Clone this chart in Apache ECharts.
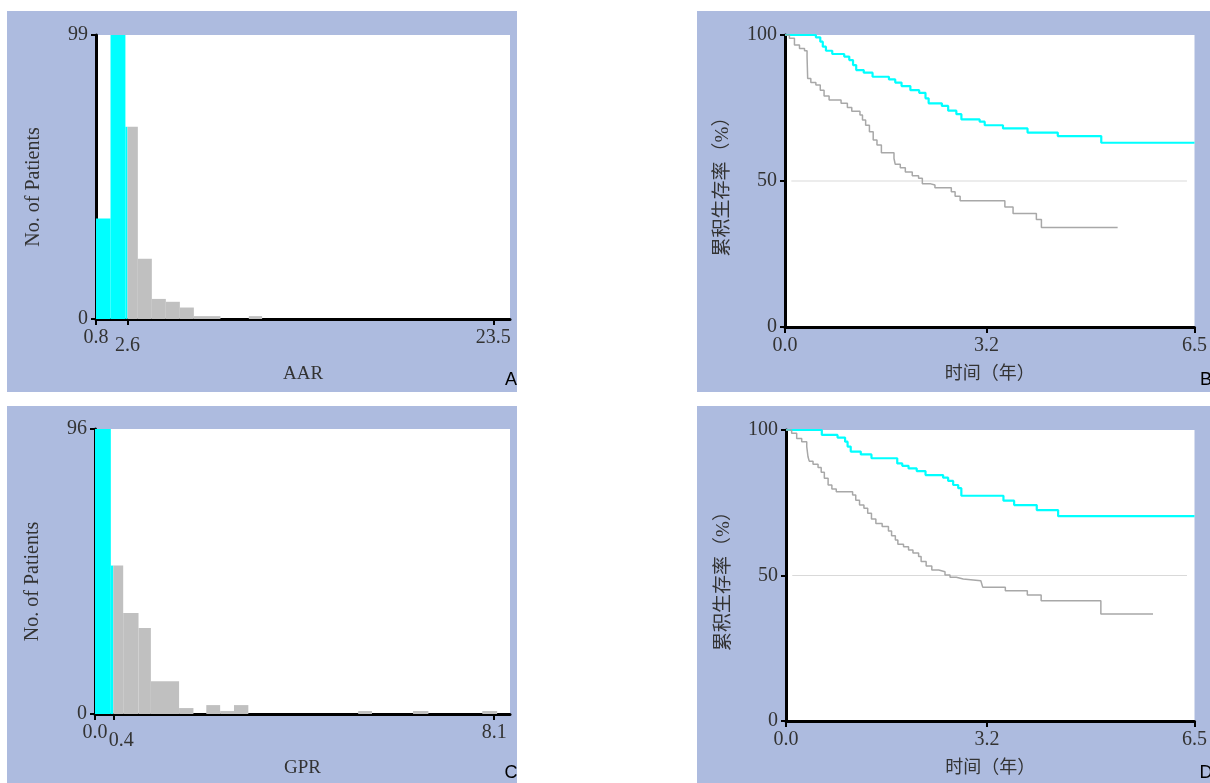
<!DOCTYPE html>
<html>
<head>
<meta charset="utf-8">
<title>AAR / GPR 生存分析</title>
<script src="https://cdn.jsdelivr.net/npm/echarts@6.0.0/dist/echarts.min.js"></script>
<style>
  html, body { margin: 0; padding: 0; background: #fff; }
  #statistics { width: 1210px; height: 783px; }
</style>
</head>
<body>
<div id="statistics"></div>
<script type="text/javascript">
  // A: AAR 直方图 (起点, 终点, 人数)
  var aarStart = [0.8, 1.63, 2.48, 3.19, 3.99, 4.79, 5.59, 6.39, 9.53]
  var aarEnd = [1.63, 2.48, 3.19, 3.99, 4.79, 5.59, 6.39, 7.91, 10.29]
  var aarCount = [35, 99, 67, 21, 7, 6, 4, 1, 1]
  var aarCut = 2.6
  var aarTicks = [0.8, 23.5]

  // C: GPR 直方图
  var gprStart = [0.03, 0.35, 0.60, 0.91, 1.16, 1.73, 2.28, 2.56, 2.84, 5.35, 6.46, 7.86]
  var gprEnd = [0.35, 0.60, 0.91, 1.16, 1.73, 2.02, 2.56, 2.84, 3.13, 5.63, 6.77, 8.16]
  var gprCount = [96, 50, 34, 29, 11, 2, 3, 1, 3, 1, 1, 1]
  var gprCut = 0.4
  var gprTicks = [0.03, 8.1]

  // B: 按AAR分组的生存曲线
  var bHighT = [0, 0.49, 0.56, 0.60, 0.65, 0.75, 0.94, 1.02, 1.08, 1.13, 1.25, 1.39, 1.65, 1.75, 1.85, 1.99, 2.13, 2.23, 2.28, 2.49, 2.59, 2.72, 2.80, 3.09, 3.17, 3.46, 3.85, 4.33, 5.02, 6.5]
  var bHighS = [100, 99.2, 97.7, 96.0, 94.6, 93.5, 92.6, 91.4, 89.7, 88.0, 87.1, 85.7, 84.8, 83.7, 82.5, 81.1, 80.2, 78.3, 76.6, 75.7, 74.1, 72.9, 71.1, 70.3, 69.1, 68.0, 66.6, 65.4, 63.1, 63.1]
  var bLowT = [0, 0.07, 0.15, 0.23, 0.31, 0.35, 0.36, 0.41, 0.49, 0.56, 0.62, 0.70, 0.89, 0.99, 1.06, 1.19, 1.23, 1.28, 1.34, 1.40, 1.46, 1.53, 1.73, 1.75, 1.83, 1.91, 2.02, 2.12, 2.18, 2.30, 2.38, 2.64, 2.70, 2.78, 3.49, 3.62, 3.99, 4.07, 5.28]
  var bLowS = [100, 98.9, 96.6, 95.4, 94.6, 92.6, 85.1, 83.7, 82.9, 81.1, 79.1, 77.7, 76.6, 75.2, 73.9, 72.6, 70.9, 69.1, 66.9, 64.0, 62.3, 59.7, 57.7, 55.7, 54.5, 53.1, 51.8, 50.9, 49.1, 48.6, 47.7, 46.3, 44.8, 43.2, 41.1, 38.9, 36.8, 34.1, 34.1]

  // D: 按GPR分组的生存曲线
  var dHighT = [0, 0.57, 0.82, 0.94, 0.98, 1.03, 1.19, 1.36, 1.77, 1.85, 1.95, 2.08, 2.22, 2.50, 2.58, 2.66, 2.74, 2.79, 3.46, 3.63, 3.99, 4.33, 6.5]
  var dHighS = [100, 98.3, 97.4, 96.0, 94.3, 92.6, 91.6, 90.3, 88.5, 87.7, 86.8, 85.9, 84.5, 83.6, 82.5, 81.1, 80.0, 77.4, 75.7, 74.2, 72.5, 70.4, 70.4]
  var dLowT = [0, 0.09, 0.17, 0.25, 0.33, 0.35, 0.37, 0.43, 0.51, 0.56, 0.61, 0.67, 0.73, 0.80, 1.06, 1.11, 1.17, 1.24, 1.30, 1.36, 1.43, 1.53, 1.63, 1.68, 1.74, 1.78, 1.87, 1.95, 2.02, 2.11, 2.15, 2.23, 2.32, 2.43, 2.53, 2.61, 2.71, 2.82, 3.10, 3.13, 3.49, 3.84, 4.06, 5.01, 5.84]
  var dLowS = [100, 98.9, 97.1, 96.0, 94.3, 90.8, 89.3, 88.2, 87.1, 85.5, 83.4, 81.1, 79.7, 78.8, 77.7, 75.9, 74.2, 73.1, 71.4, 69.4, 67.9, 66.8, 65.3, 63.7, 62.2, 60.7, 59.9, 58.8, 57.7, 56.5, 54.8, 53.3, 51.9, 51.3, 50.2, 49.4, 48.8, 48.2, 47.7, 46.0, 44.8, 43.3, 41.3, 36.8, 36.8]

  var refT = [0.1, 6.38]
  var refS = [50, 50]
  var kmTicks = [0, 3.2, 6.5]

  var CYAN = '#00ffff'
  var GRAY = '#c0c0c0'
  var PANEL = '#adbbdf'
  var SERIF = "'Liberation Serif', 'Noto Sans CJK SC', serif"
  var TXT = '#333'

  function zip(a, b, c) {
    var out = []
    for (var i = 0; i < a.length; i++) {
      out.push(c ? [a[i], b[i], c[i]] : [a[i], b[i]])
    }
    return out
  }

  // 分割点左边青色, 右边灰色
  function histItem(cut) {
    return function (params, api) {
      var x0 = api.value(0), x1 = api.value(1), n = api.value(2)
      var parts = []
      if (x1 <= cut) parts.push([x0, x1, CYAN])
      else if (x0 >= cut) parts.push([x0, x1, GRAY])
      else {
        parts.push([x0, cut, CYAN])
        parts.push([cut, x1, GRAY])
      }
      var children = parts.map(function (p) {
        var a = api.coord([p[0], n])
        var b = api.coord([p[1], 0])
        return {
          type: 'rect',
          shape: {x: a[0], y: a[1], width: b[0] - a[0], height: b[1] - a[1]},
          style: {fill: p[2]}
        }
      })
      return {type: 'group', children: children}
    }
  }

  var axisLine = {show: true, onZero: false, lineStyle: {color: '#000', width: 3}}
  var labelFont = {color: TXT, fontFamily: SERIF, fontSize: 20}

  function xAxis(grid, min, max, ticks, margin, lineShow, name, nameGap, pad) {
    return {
      type: 'value', gridIndex: grid, position: 'bottom', offset: 0, min: min, max: max,
      axisLine: lineShow ? axisLine : {show: false},
      splitLine: {show: false},
      axisTick: {show: true, length: 6, customValues: ticks, lineStyle: {color: '#000', width: 2}},
      axisLabel: Object.assign({
        customValues: ticks, margin: margin, padding: pad || 0,
        formatter: function (v) { return v.toFixed(1) }
      }, labelFont),
      name: name || '', nameLocation: 'middle', nameGap: nameGap || 0,
      nameTextStyle: {color: TXT, fontFamily: SERIF, fontSize: name === 'AAR' || name === 'GPR' ? 19 : 18}
    }
  }

  function yAxis(grid, max, interval, name, nameGap, shift, size) {
    return {
      type: 'value', gridIndex: grid, min: 0, max: max, interval: interval,
      axisLine: axisLine,
      splitLine: {show: false},
      axisTick: {show: true, length: 5, lineStyle: {color: '#000', width: 2}},
      axisLabel: Object.assign({margin: 8}, labelFont),
      name: name, nameLocation: 'middle', nameGap: nameGap, nameRotate: 90,
      nameTextStyle: {color: TXT, fontFamily: SERIF, fontSize: size, padding: [0, shift, 0, 0]}
    }
  }

  function kmLine(x, y, t, s, color, width) {
    return {
      type: 'line', xAxisIndex: x, yAxisIndex: y, step: 'end', showSymbol: false,
      data: zip(t, s), lineStyle: {color: color, width: width}, z: 3
    }
  }

  function refLine(x, y) {
    return {
      type: 'line', xAxisIndex: x, yAxisIndex: y, showSymbol: false,
      data: zip(refT, refS), lineStyle: {color: '#d9d9d9', width: 1}, z: 2
    }
  }

  function panelRect(x, y, w, h) {
    return {type: 'rect', z: -10, shape: {x: x, y: y, width: w, height: h}, style: {fill: PANEL}, silent: true}
  }

  function letter(t, x, y) {
    return {
      type: 'text', z: 10, x: x, y: y,
      style: {text: t, fill: '#000', font: "18px 'Liberation Sans', Arial, sans-serif", textAlign: 'center', textVerticalAlign: 'middle'}
    }
  }

  var myChart = echarts.init(document.getElementById('statistics'), null, {renderer: 'canvas'})
  var option = {
    animation: false,
    backgroundColor: '#fff',
    graphic: [
      panelRect(7, 11, 510, 381),
      panelRect(697, 11, 513, 381),
      panelRect(7, 406, 510, 377),
      panelRect(697, 406, 513, 377),
      letter('A', 511, 380),
      letter('B', 1206, 380),
      letter('C', 511, 773),
      letter('D', 1206, 773)
    ],
    grid: [
      {left: 96, top: 35, width: 414, height: 284, show: true, backgroundColor: '#fff', borderWidth: 0},
      {left: 785, top: 35, width: 414, height: 292, show: true, backgroundColor: '#fff', borderWidth: 0},
      {left: 95, top: 429, width: 415, height: 285, show: true, backgroundColor: '#fff', borderWidth: 0},
      {left: 786, top: 430, width: 413, height: 291, show: true, backgroundColor: '#fff', borderWidth: 0}
    ],
    xAxis: [
      xAxis(0, 0.8, 24.45, aarTicks, 9, true, 'AAR', 46),
      xAxis(0, 0.8, 24.45, [aarCut], 17, false),
      xAxis(1, 0, 6.5, kmTicks, 9, true, '时间（年）', 38),
      xAxis(2, 0.03, 8.42, gprTicks, 9, true, 'GPR', 45),
      xAxis(2, 0.03, 8.42, [gprCut], 17, false, '', 0, [0, 0, 0, 16]),
      xAxis(3, 0, 6.5, kmTicks, 9, true, '时间（年）', 38)
    ],
    yAxis: [
      yAxis(0, 99, 99, 'No. of Patients', 52, 20, 20),
      yAxis(1, 100, 50, '累积生存率（%）', 52, 2, 19),
      yAxis(2, 96, 96, 'No. of Patients', 52, 20, 20),
      yAxis(3, 100, 50, '累积生存率（%）', 52, 2, 19)
    ],
    series: [
      {
        type: 'custom', xAxisIndex: 0, yAxisIndex: 0,
        renderItem: histItem(aarCut),
        encode: {x: [0, 1], y: 2},
        data: zip(aarStart, aarEnd, aarCount)
      },
      refLine(2, 1),
      kmLine(2, 1, bHighT, bHighS, CYAN, 2.2),
      kmLine(2, 1, bLowT, bLowS, '#a8a8a8', 1.5),
      {
        type: 'custom', xAxisIndex: 3, yAxisIndex: 2,
        renderItem: histItem(gprCut),
        encode: {x: [0, 1], y: 2},
        data: zip(gprStart, gprEnd, gprCount)
      },
      refLine(5, 3),
      kmLine(5, 3, dHighT, dHighS, CYAN, 2.2),
      kmLine(5, 3, dLowT, dLowS, '#a8a8a8', 1.5)
    ]
  }
  myChart.setOption(option)
</script>
</body>
</html>
